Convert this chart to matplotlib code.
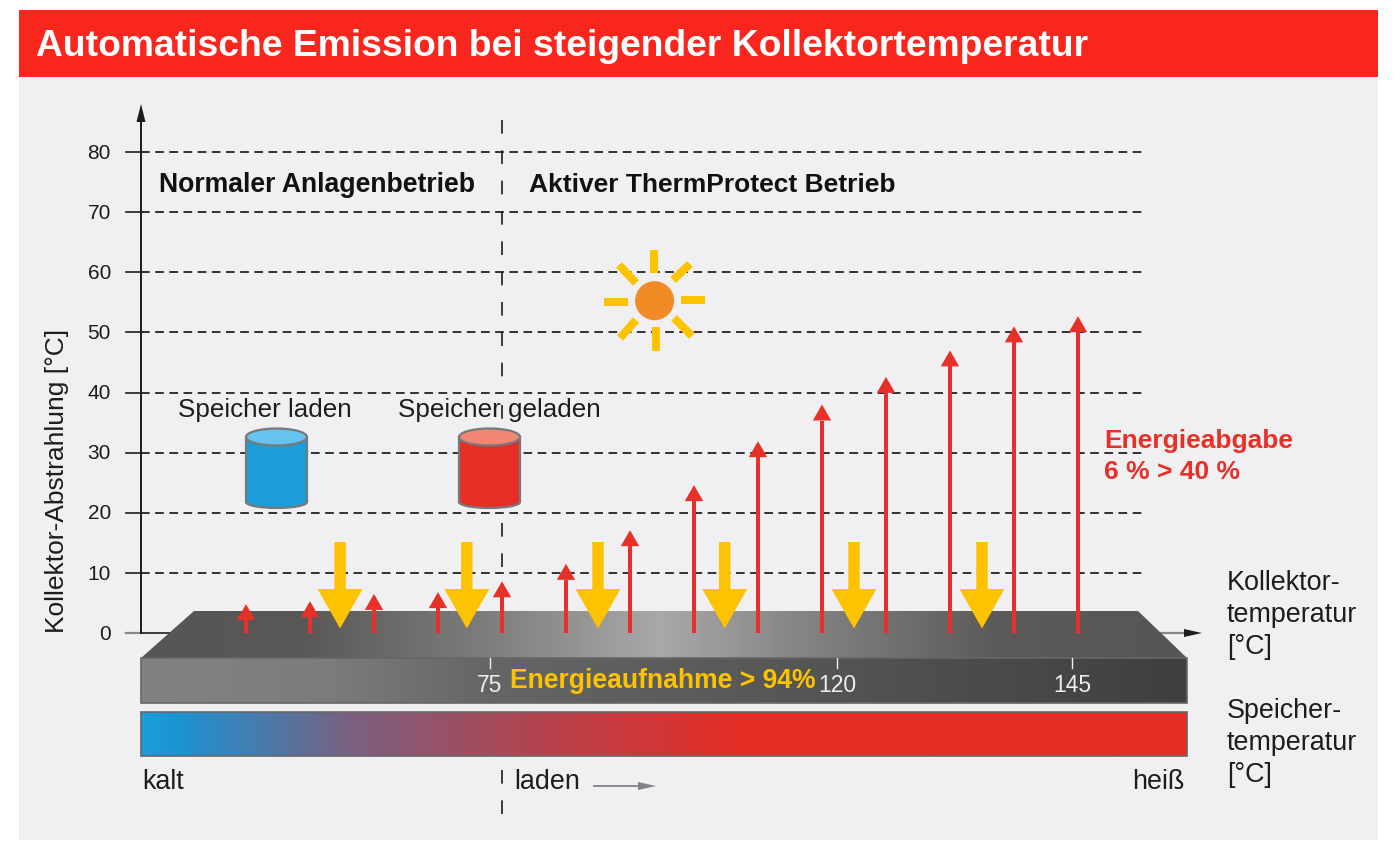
#!/usr/bin/env python3
"""Automatische Emission bei steigender Kollektortemperatur, as a matplotlib figure."""
from __future__ import annotations

import matplotlib

matplotlib.use("Agg")
import matplotlib.pyplot as plt
import numpy as np
from matplotlib.colors import LinearSegmentedColormap
from matplotlib.patches import Ellipse, Polygon, Rectangle

plt.rcParams["font.family"] = ["Liberation Sans", "DejaVu Sans"]

# chart values
y_ticks = [0, 10, 20, 30, 40, 50, 60, 70, 80]
red_arrow_values = [4.8, 5.3, 6.5, 6.8, 8.6, 11.5, 17.1, 24.6, 31.9, 38.0, 42.6, 47.0, 51.0, 52.7]
yellow_arrow_slots = [1.47, 3.45, 5.5, 7.48, 9.5, 11.5]
temp_ticks = [75, 120, 145]
temp_tick_px = [490, 837, 1072]

W, H = 1397, 841
PX_PER_UNIT = 6.0125
ZERO_PX = 633
SLOT_X0, SLOT_DX = 246, 64

RED = "#e73028"
YELLOW = "#fec300"
DARK = "#1d1d1b"


def py(px: float) -> float:
    """Pixel row -> y value on the radiation scale."""
    return (ZERO_PX - px) / PX_PER_UNIT


def slot_x(slot: float) -> float:
    return SLOT_X0 + SLOT_DX * slot


def gradient(ax, stops, x0, x1, y0, y1, clip=None):
    cmap = LinearSegmentedColormap.from_list(
        "g", [((x - x0) / (x1 - x0), c) for x, c in stops])
    im = ax.imshow(np.linspace(0, 1, 512).reshape(1, -1), cmap=cmap, aspect="auto",
                   extent=(x0, x1, py(y1), py(y0)), zorder=3, interpolation="bilinear")
    if clip is not None:
        im.set_clip_path(clip)


def up_arrow(ax, x, value):
    """Thin red arrow from zero up to value."""
    head_h = 16 / PX_PER_UNIT
    ax.add_patch(Rectangle((x - 1.8, 0), 3.6, value - head_h, fc=RED, ec="none", zorder=6))
    ax.add_patch(Polygon([(x - 9.2, value - head_h), (x + 9.2, value - head_h), (x, value)],
                         fc=RED, ec="none", zorder=6))


def down_arrow(ax, x):
    ax.add_patch(Polygon(
        [(x - 5.7, py(542)), (x + 5.7, py(542)), (x + 5.7, py(589)), (x + 22.5, py(589)),
         (x, py(628.5)), (x - 22.5, py(589)), (x - 5.7, py(589))],
        fc=YELLOW, ec="none", zorder=7))


def cylinder(ax, x0, x1, body, lid):
    cx = (x0 + x1) / 2
    w = x1 - x0
    ax.add_patch(Ellipse((cx, py(502)), w, 12 / PX_PER_UNIT, fc=body, ec="#77797b", lw=1.6, zorder=4))
    ax.add_patch(Rectangle((x0, py(502)), w, (502 - 437) / PX_PER_UNIT, fc=body, ec="none", zorder=4))
    ax.plot([x0, x0], [py(502), py(437)], color="#77797b", lw=1.6, zorder=4)
    ax.plot([x1, x1], [py(502), py(437)], color="#77797b", lw=1.6, zorder=4)
    ax.add_patch(Ellipse((cx, py(437)), w, 17 / PX_PER_UNIT, fc=lid, ec="#77797b", lw=1.6, zorder=4))


def main() -> None:
    fig = plt.figure(figsize=(W / 100, H / 100), dpi=100, facecolor="white")
    ax = fig.add_axes([0, 0, 1, 1])
    ax.axis("off")

    # panel and header
    ax.add_patch(Rectangle((19, py(840)), 1359, (840 - 77) / PX_PER_UNIT, fc="#f0f0f2", ec="none", zorder=0))
    ax.add_patch(Rectangle((19, py(77)), 1359, 67 / PX_PER_UNIT, fc="#f9261e", ec="none", zorder=1))
    ax.text(36, py(46), "Automatische Emission bei steigender Kollektortemperatur",
            color="white", fontsize=26.8, fontweight="bold", va="center", ha="left", zorder=2)

    # grid and y axis
    dash = (0, (5.2, 3.3))
    for v in y_ticks:
        if v > 0:
            ax.plot([141, 1143], [v, v], color="#111111", lw=1.2, ls=dash, zorder=1.5)
            ax.plot([126, 141], [v, v], color=DARK, lw=1.2, zorder=1.5)
        ax.text(111, v - 0.2, str(v), ha="right", va="center", fontsize=15, color=DARK, zorder=2)
    ax.plot([126, 141], [0, 0], color="#888888", lw=1.6, zorder=1.5)
    ax.plot([141, 172], [0, 0], color=DARK, lw=1.2, zorder=1.5)
    ax.plot([1160, 1186], [0, 0], color="#888888", lw=1.6, zorder=1.5)
    ax.add_patch(Polygon([(1184, py(629)), (1202, 0), (1184, py(637))], fc=DARK, ec="none", zorder=2))
    ax.plot([141, 141], [0, py(118)], color=DARK, lw=1.4, zorder=2)
    ax.add_patch(Polygon([(136.5, py(122)), (141, py(104)), (145.5, py(122))], fc=DARK, ec="none", zorder=2))
    ax.text(57, py(481), "Kollektor-Abstrahlung [°C]", rotation=90, ha="center", va="center",
            fontsize=19, color=DARK, zorder=2)

    # phase divider
    vdash = (0, (8.2, 10))
    for y0, y1 in [(120, 393), (405, 421), (523, 581), (770, 815)]:
        ax.plot([502, 502], [py(y0), py(y1)], color=DARK, lw=1.2, ls=vdash, zorder=1.6)

    ax.text(159, py(185), "Normaler Anlagenbetrieb", fontsize=19.2, fontweight="bold", va="center", color="#111111", zorder=2)
    ax.text(529, py(185), "Aktiver ThermProtect Betrieb", fontsize=19, fontweight="bold", va="center", color="#111111", zorder=2)

    # sun
    for (x0, y0), (x1, y1) in [((681, 300), (705, 300)), ((604, 302), (628, 302)),
                               ((654, 250), (654, 273)), ((656, 327), (656, 351)),
                               ((619, 265), (636, 283)), ((690, 264), (673, 280)),
                               ((636, 320), (620, 338)), ((674, 318), (692, 336))]:
        ax.plot([x0, x1], [py(y0), py(y1)], color=YELLOW, lw=5.8, solid_capstyle="butt", zorder=2)
    ax.add_patch(Ellipse((654.6, py(300.7)), 39, 39 / PX_PER_UNIT, fc="#f28a25", ec="none", zorder=3))

    # storage tanks
    ax.text(265, py(410), "Speicher laden", ha="center", va="center", fontsize=18.7, color=DARK, zorder=3)
    ax.text(499, py(410), "Speicher geladen", ha="center", va="center", fontsize=18.7, color=DARK, zorder=2)
    cylinder(ax, 246, 307, "#1c9dd9", "#66c2f0")
    cylinder(ax, 459, 520, "#e62e25", "#f18673")

    # slab: top face and front
    top = Polygon([(194, py(611)), (1138, py(611)), (1187, py(658)), (141, py(658))],
                  closed=True, fc="none", ec="none", transform=ax.transData, zorder=3)
    ax.add_patch(top)
    gradient(ax, [(141, "#575654"), (300, "#595856"), (480, "#7c7c7b"), (660, "#a9a9a9"),
                  (800, "#858585"), (1000, "#5b5a58"), (1187, "#575654")],
             141, 1187, 611, 658, clip=top)
    gradient(ax, [(141, "#828282"), (330, "#7b7c7a"), (490, "#656565"), (800, "#565655"),
                  (1187, "#3f3f3d")], 141, 1187, 658, 703)
    ax.add_patch(Rectangle((141, py(703)), 1046, 45 / PX_PER_UNIT, fc="none", ec="#666666", lw=1.2, zorder=4))

    # storage temperature bar
    gradient(ax, [(141, "#1b9ddb"), (175, "#1b94d4"), (350, "#7a6080"), (540, "#b5434f"),
                  (740, "#e52d25"), (1187, "#e52d25")], 141, 1187, 712, 756)
    ax.add_patch(Rectangle((141, py(756)), 1046, 44 / PX_PER_UNIT, fc="none", ec="#666666", lw=1.2, zorder=4))

    for t, x in zip(temp_ticks, temp_tick_px):
        ax.plot([x, x], [py(658), py(668)], color="#eeeeee", lw=1, zorder=5)
        ax.text(x, py(685), str(t), ha="center", va="center", fontsize=16.5, color="#eeeeee", zorder=5)
    ax.text(510, py(681), "Energieaufnahme > 94%", fontsize=19.1, fontweight="bold", color=YELLOW,
            va="center", zorder=5)

    # arrows
    for i, v in enumerate(red_arrow_values):
        up_arrow(ax, slot_x(i), v)
    for s in yellow_arrow_slots:
        down_arrow(ax, slot_x(s))

    # labels
    ax.text(1104, py(441), "Energieabgabe", fontsize=19, fontweight="bold", color=RED, va="center", zorder=5)
    ax.text(1104, py(472), "6 % > 40 %", fontsize=19, fontweight="bold", color=RED, va="center", zorder=5)
    for y, s in [(583, "Kollektor-"), (615, "temperatur"), (647, "[°C]"),
                 (711, "Speicher-"), (743, "temperatur"), (775, "[°C]")]:
        ax.text(1227, py(y), s, fontsize=19.4, color=DARK, va="center", zorder=5)
    ax.text(142, py(782), "kalt", fontsize=19.4, color=DARK, va="center", zorder=5)
    ax.text(514, py(782), "laden", fontsize=19.4, color=DARK, va="center", zorder=5)
    ax.text(1185, py(782), "heiß", fontsize=19.4, color=DARK, va="center", ha="right", zorder=5)
    ax.plot([594, 640], [py(786), py(786)], color="#7f8486", lw=1.3, zorder=5)
    ax.add_patch(Polygon([(638, py(782)), (656, py(786)), (638, py(790))], fc="#7f8486", ec="none", zorder=5))

    ax.set_xlim(0, W)
    ax.set_ylim(py(H), py(0))
    fig.savefig("out.png", dpi=100, facecolor="white")
    plt.close(fig)


if __name__ == "__main__":
    main()
